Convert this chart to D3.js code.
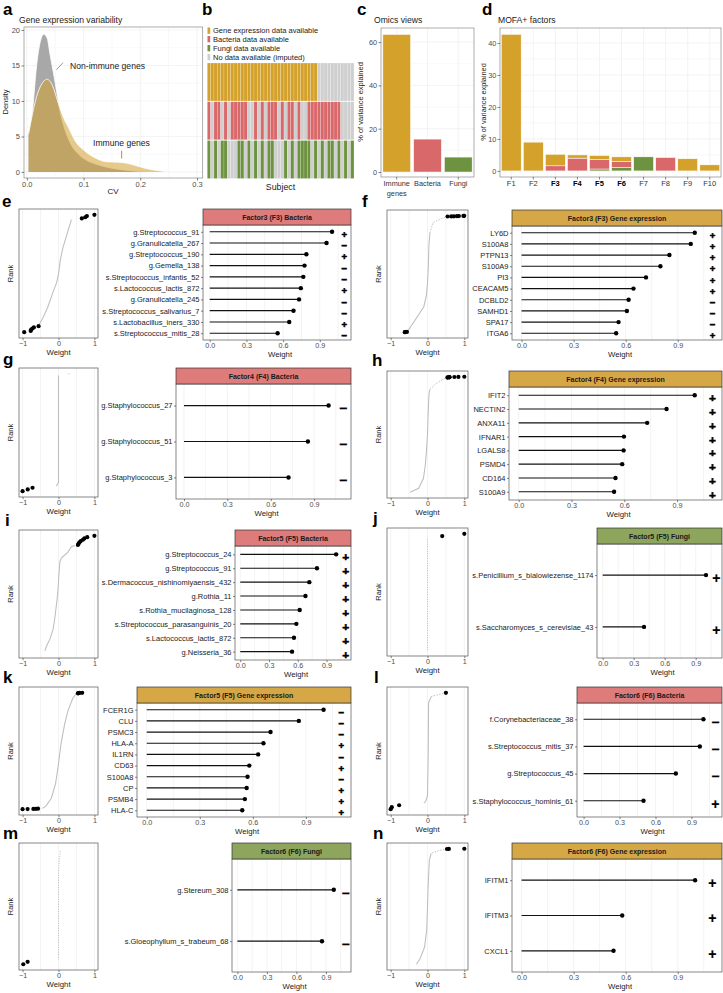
<!DOCTYPE html>
<html><head><meta charset="utf-8">
<script src="https://cdn.jsdelivr.net/npm/d3@7/dist/d3.min.js"></script>
<style>
html,body{margin:0;padding:0;background:#fff;}
svg{display:block;}
text{font-family:"Liberation Sans",Arial,Helvetica,sans-serif;}
</style></head><body>
<svg id="fig" width="723" height="993"></svg>
<script>
// ================= DATA =================
// (a) density of coefficient of variation
const nonImmuneCV      = [0.003,0.010,0.017,0.023,0.030,0.036,0.041,0.047,0.053,0.058,0.065,0.072,0.080,0.090,0.100,0.120,0.140,0.160,0.180,0.200,0.220];
const nonImmuneDensity = [5.6,8.7,14.8,18.1,19.4,18.8,16.5,13.9,11.1,8.7,6.5,4.9,3.6,2.6,1.9,1.15,0.7,0.4,0.2,0.07,0];
const immuneCV      = [0.003,0.010,0.020,0.030,0.036,0.045,0.055,0.065,0.075,0.085,0.100,0.120,0.140,0.160,0.175,0.190,0.210,0.230,0.250];
const immuneDensity = [5.3,8.2,11.3,12.8,13.05,12.2,9.8,7.6,6.0,4.4,3.1,2.0,1.45,1.38,1.25,0.95,0.5,0.2,0];
const cvTicks = [0,0.1,0.2,0.3];
const densityTicks = [0,5,10,15,20];

// (b) data availability per subject (1 = available)
const geneAvail  = [1,1,1,1,1,1,1,1,1,1,1,1,1,1,1,1,1,1,1,1,1,1,1,1,1,1,1,1,1,1,1,1,1,0,0,0,0,0,0,0,0,0,0,0];
const bactAvail  = [1,0,1,1,0,1,0,1,1,1,1,1,0,0,1,0,1,0,1,1,1,0,1,0,1,1,0,1,0,0,1,1,1,1,1,1,1,1,1,1,0,0,0,0];
const fungiAvail = [1,0,1,0,1,1,0,0,0,1,1,0,1,0,1,0,1,0,1,1,0,0,0,1,0,1,0,1,1,1,1,0,1,0,1,0,1,1,0,1,0,1,0,1];
const legendLabels = ["Gene expression data available","Bacteria data available","Fungi data available","No data available (imputed)"];

// (c) omics views
const omicsViews = ["Immune genes","Bacteria","Fungi"];
const omicsVariance = [63.5,15.2,6.9];
const omicsTicks = [0,20,40,60];

// (d) MOFA+ factors (stacked: fungi, bacteria, gene expression)
const factors = ["F1","F2","F3","F4","F5","F6","F7","F8","F9","F10"];
const factorGene     = [42.7,9.0,3.6,1.0,1.2,1.4,0,0,3.8,1.9];
const factorBacteria = [0,0,1.6,4.0,3.0,1.9,0,4.2,0,0];
const factorFungi    = [0,0,0,0,0.6,1.1,4.4,0,0,0];
const boldFactors = ["F3","F4","F5","F6"];
const factorTicks = [0,10,20,30,40];

// (e-n) top feature weights
const eFeat = ["g.Streptococcus_91","g.Granulicatella_267","g.Streptococcus_190","g.Gemella_138","s.Streptococcus_infantis_52","s.Lactococcus_lactis_872","g.Granulicatella_245","s.Streptococcus_salivarius_7","s.Lactobacillus_iners_330","s.Streptococcus_mitis_28"];
const eW    = [1.0,0.955,0.79,0.775,0.765,0.745,0.73,0.685,0.65,0.555];
const eSign = ["+","-","+","-","-","+","-","-","+","-"];
const eRankN = 100;
const eCurve = [[0.36,96],[0.3,90],[0.22,82],[0.12,72],[0.05,62],[0.0,50],[-0.05,43],[-0.15,35],[-0.3,22],[-0.45,12],[-0.55,7]];

const fFeat = ["LY6D","S100A8","PTPN13","S100A9","PI3","CEACAM5","DCBLD2","SAMHD1","SPA17","ITGA6"];
const fW    = [0.998,0.975,0.852,0.80,0.717,0.645,0.617,0.607,0.559,0.545];
const fSign = ["+","+","+","+","+","+","-","-","-","+"];
const fRankN = 1000;
const fDash  = [[0.545,994],[0.38,976],[0.15,942],[0.07,860]];
const fCurve = [[0.07,860],[0.06,828],[0.04,760],[0.03,650],[0.02,547],[0.0,420],[-0.03,317],[-0.1,220],[-0.25,146],[-0.43,61],[-0.52,19],[-0.555,4]];

const gFeat = ["g.Staphylococcus_27","g.Staphylococcus_51","g.Staphylococcus_3"];
const gW    = [1.0,0.857,0.723];
const gSign = ["-","-","-"];
const gRankN = 70;
const gCurve = [[-0.06,4],[0,6],[0,69]];
const gPts = [[0.29,70]];

const hFeat = ["IFIT2","NECTIN2","ANXA11","IFNAR1","LGALS8","PSMD4","CD164","S100A9"];
const hW    = [1.0,0.84,0.73,0.598,0.596,0.588,0.55,0.542];
const hSign = ["+","+","+","+","+","+","+","+"];
const hRankN = 1000;
const hDash  = [[0.54,993],[0.4,975],[0.22,937],[0.06,890]];
const hCurve = [[0.06,890],[0.04,842],[0.02,700],[0.0,500],[-0.03,350],[-0.06,237],[-0.11,122],[-0.24,35],[-0.47,1]];

const iFeat = ["g.Streptococcus_24","g.Streptococcus_91","s.Dermacoccus_nishinomiyaensis_432","g.Rothia_11","s.Rothia_mucilaginosa_128","s.Streptococcus_parasanguinis_20","s.Lactococcus_lactis_872","g.Neisseria_36"];
const iW    = [1.0,0.80,0.72,0.68,0.62,0.585,0.56,0.54];
const iSign = ["+","+","+","+","+","+","+","+"];
const iRankN = 90;
const iCurve = [[0.45,82.5],[0.36,81.7],[0.26,77.5],[0.08,73],[0.04,70.4],[0.01,60],[-0.01,50],[-0.04,41.3],[-0.1,27.5],[-0.15,18.6],[-0.24,11],[-0.33,5.9],[-0.38,2]];

const jFeat = ["s.Penicillium_s_bialowiezense_1174","s.Saccharomyces_s_cerevisiae_43"];
const jW    = [1.0,0.40];
const jSign = ["+","+"];
const jRankN = 52;
const jDotted = [[0,1],[0,50]];

const kFeat = ["FCER1G","CLU","PSMC3","HLA-A","IL1RN","CD63","S100A8","CP","PSMB4","HLA-C"];
const kW    = [1.0,0.86,0.70,0.66,0.63,0.58,0.57,0.565,0.555,0.54];
const kSign = ["-","-","-","+","-","+","-","+","+","+"];
const kRankN = 1000;
const kCurve = [[0.49,990],[0.4,956],[0.26,843],[0.17,729],[0.07,564],[0.0,393],[-0.08,223],[-0.2,95],[-0.35,27],[-0.45,8]];

const lFeat = ["f.Corynebacteriaceae_38","s.Streptococcus_mitis_37","g.Streptococcus_45","s.Staphylococcus_hominis_61"];
const lW    = [1.0,0.97,0.77,0.5];
const lSign = ["-","-","-","+"];
const lRankN = 60;
const lDash  = [[0.5,60],[0.17,58.5],[0.1,58]];
const lCurve = [[0.1,58],[0.03,55],[0.02,30],[0,8],[-0.05,5],[-0.1,4]];

const mFeat = ["g.Stereum_308","s.Gloeophyllum_s_trabeum_68"];
const mW    = [0.98,0.86];
const mSign = ["-","-"];
const mRankN = 50;
const mDotted = [[0.05,49],[0.02,45],[0,40],[0,3]];

const nFeat = ["IFITM1","IFITM3","CXCL1"];
const nW    = [1.0,0.58,0.53];
const nSign = ["+","+","+"];
const nRankN = 1000;
const nDash  = [[0.53,997],[0.3,985],[0.1,960]];
const nCurve = [[0.1,960],[0.05,900],[0.02,700],[0,500],[-0.02,300],[-0.08,150],[-0.2,50],[-0.3,1]];

const weightTicks = [0,0.3,0.6,0.9];
const rankTicks = [-1,0,1];

// ================= STYLE / LAYOUT =================
const GOLD="#D4A12B", RED="#D9686B", GREEN="#6D9340", NA="#CFCFCF";
const HDR={"Gene expression":"#D5A746","Bacteria":"#DD7C7B","Fungi":"#8DA55D"};
const GRID="#EBEBEB", TICKTXT="#4D4D4D", FONT='"Liberation Sans",Arial,sans-serif';
const svg = d3.select("#fig");

function styleAxis(sel, fs, col){
  sel.select(".domain").remove();
  sel.selectAll(".tick line").attr("stroke","#333").attr("stroke-width",0.6);
  sel.selectAll(".tick text").attr("fill",col||TICKTXT).attr("font-size",fs).attr("font-family",FONT);
}
function label(t,x,y,opt){
  opt=opt||{};
  const s=svg.append("text").attr("x",x).attr("y",y).text(t)
    .attr("font-size",opt.fs||8).attr("fill",opt.fill||"#1A1A1A")
    .attr("text-anchor",opt.anchor||"start");
  if(opt.bold) s.attr("font-weight","bold");
  if(opt.rot) s.attr("transform",`rotate(-90,${x},${y})`);
  return s;
}
function letter(t,x,y){ label(t,x,y,{fs:17,bold:true,fill:"#000"}); }
function vgrid(g,vals,x,y0,y1,col){
  g.selectAll(null).data(vals).join("line").attr("x1",d=>x(d)).attr("x2",d=>x(d))
   .attr("y1",y0).attr("y2",y1).attr("stroke",col||GRID).attr("stroke-width",0.6);
}
function hgrid(g,vals,y,x0,x1,col){
  g.selectAll(null).data(vals).join("line").attr("y1",d=>y(d)).attr("y2",d=>y(d))
   .attr("x1",x0).attr("x2",x1).attr("stroke",col||GRID).attr("stroke-width",0.6);
}
function box(g,x0,y0,x1,y1,col){
  g.append("rect").attr("x",x0).attr("y",y0).attr("width",x1-x0).attr("height",y1-y0)
   .attr("fill","none").attr("stroke",col||"#8A8A8A").attr("stroke-width",0.7);
}

// ================= PANEL A =================
(function(){
  const L={x0:24,x1:202.7,y0:27,y1:178};
  const g=svg.append("g");
  const x=d3.scaleLinear().domain([-0.005,0.31]).range([L.x0,L.x1]);
  const y=d3.scaleLinear().domain([-0.85,20.42]).range([L.y1,L.y0]);
  vgrid(g,[0.05,0.15,0.25],x,L.y0,L.y1,"#F3F3F3");
  hgrid(g,[2.5,7.5,12.5,17.5],y,L.x0,L.x1,"#F3F3F3");
  vgrid(g,cvTicks,x,L.y0,L.y1);
  hgrid(g,densityTicks,y,L.x0,L.x1);
  const area=d3.area().x(d=>x(d[0])).y0(y(0)).y1(d=>y(d[1])).curve(d3.curveMonotoneX);
  const line=d3.line().x(d=>x(d[0])).y(d=>y(d[1])).curve(d3.curveMonotoneX);
  const non=nonImmuneCV.map((v,i)=>[v,nonImmuneDensity[i]]);
  const imm=immuneCV.map((v,i)=>[v,immuneDensity[i]]);
  g.append("path").datum(non).attr("d",area).attr("fill","#A8A8A8");
  g.append("path").datum(non).attr("d",line).attr("fill","none").attr("stroke","#fff").attr("stroke-width",0.8);
  g.append("path").datum(imm).attr("d",area).attr("fill","rgb(211,161,51)").attr("fill-opacity",0.57);
  g.append("path").datum(imm).attr("d",line).attr("fill","none").attr("stroke","#fff").attr("stroke-width",0.8);
  box(g,L.x0,L.y0,L.x1,L.y1);
  const ax=g.append("g").attr("transform",`translate(0,${L.y1})`)
    .call(d3.axisBottom(x).tickValues(cvTicks).tickFormat(d3.format(".1f")).tickSize(2.5).tickPadding(1.5));
  styleAxis(ax,7.5);
  const ay=g.append("g").attr("transform",`translate(${L.x0},0)`)
    .call(d3.axisLeft(y).tickValues(densityTicks).tickSize(2.5).tickPadding(1.5));
  styleAxis(ay,7.5);
  label("CV",113,194,{fs:8,anchor:"middle"});
  label("Density",8,102,{fs:7.5,anchor:"middle",rot:true});
  label("Gene expression variability",19,23,{fs:8.6});
  letter("a",3,15);
  g.append("line").attr("x1",x(0.052)).attr("y1",y(14.4)).attr("x2",x(0.064)).attr("y2",y(15.4)).attr("stroke","#555").attr("stroke-width",0.6);
  label("Non-immune genes",70,69,{fs:8.6});
  g.append("line").attr("x1",x(0.167)).attr("x2",x(0.167)).attr("y1",y(3.0)).attr("y2",y(1.9)).attr("stroke",GOLD).attr("stroke-width",1.2);
  label("Immune genes",93,146,{fs:8.6});
})();

// ================= PANEL B =================
(function(){
  const g=svg.append("g");
  const subjects=geneAvail.map((_,i)=>i);
  const rows=["Gene","Bacteria","Fungi"];
  const x=d3.scaleBand().domain(subjects).range([207.3,354]);
  const y=d3.scaleBand().domain(rows).range([63,178.5]).paddingInner(0.02);
  const avail={Gene:geneAvail,Bacteria:bactAvail,Fungi:fungiAvail};
  const col={Gene:GOLD,Bacteria:RED,Fungi:GREEN};
  rows.forEach(r=>{
    g.selectAll(null).data(subjects).join("rect")
      .attr("x",d=>x(d)).attr("y",y(r)).attr("width",x.bandwidth()).attr("height",y.bandwidth())
      .attr("fill",d=>avail[r][d]?col[r]:NA).attr("stroke","#fff").attr("stroke-width",0.3).attr("stroke-opacity",0.6);
  });
  const lc=[GOLD,RED,GREEN,NA];
  legendLabels.forEach((t,i)=>{
    const yy=[27.5,36,45,54][i];
    g.append("rect").attr("x",207.5).attr("y",yy).attr("width",2.7).attr("height",6.3).attr("fill",lc[i]);
    label(t,213,yy+5.8,{fs:7.5});
  });
  label("Subject",280.5,190,{fs:8.8,anchor:"middle"});
  letter("b",202,15);
})();

// ================= PANEL C =================
(function(){
  const g=svg.append("g");
  const L={x0:381,x1:474,y0:28,y1:177};
  const x=d3.scaleBand().domain(omicsViews).range([L.x0,L.x1]).paddingInner(0.1).paddingOuter(0.06);
  const y=d3.scaleLinear().domain([-2.3,66.5]).range([L.y1,L.y0]);
  hgrid(g,[10,30,50],y,L.x0,L.x1,"#F3F3F3");
  hgrid(g,omicsTicks,y,L.x0,L.x1);
  vgrid(g,omicsViews,d=>x(d)+x.bandwidth()/2,L.y0,L.y1);
  const cc=[GOLD,RED,GREEN];
  g.selectAll(null).data(omicsViews).join("rect")
    .attr("x",d=>x(d)).attr("width",x.bandwidth())
    .attr("y",(d,i)=>y(omicsVariance[i])).attr("height",(d,i)=>y(0)-y(omicsVariance[i]))
    .attr("fill",(d,i)=>cc[i]).attr("stroke","#fff").attr("stroke-width",0.5);
  box(g,L.x0,L.y0,L.x1,L.y1);
  const ay=g.append("g").attr("transform",`translate(${L.x0},0)`)
    .call(d3.axisLeft(y).tickValues(omicsTicks).tickSize(2.5).tickPadding(1.5));
  styleAxis(ay,7.3);
  const ax=g.append("g").attr("transform",`translate(0,${L.y1})`)
    .call(d3.axisBottom(x).tickSize(2.5).tickPadding(1.5).tickFormat(d=>d==="Immune genes"?"Immune":d));
  styleAxis(ax,7.3,"#333");
  ax.selectAll(".tick").filter(d=>d==="Immune genes").append("text")
    .attr("y",13.5).attr("dy","0.71em").attr("fill","#333").attr("font-size",7.3).attr("font-family",FONT).attr("text-anchor","middle").text("genes");
  label("% of variance explained",363,102,{fs:7.5,anchor:"middle",rot:true});
  label("Omics views",374,23,{fs:8.6});
  letter("c",357,15);
})();

// ================= PANEL D =================
(function(){
  const g=svg.append("g");
  const L={x0:500,x1:721,y0:28,y1:177};
  const x=d3.scaleBand().domain(factors).range([L.x0,L.x1]).paddingInner(0.1).paddingOuter(0.06);
  const y=d3.scaleLinear().domain([-1.9,44.7]).range([L.y1,L.y0]);
  hgrid(g,[5,15,25,35],y,L.x0,L.x1,"#F3F3F3");
  hgrid(g,factorTicks,y,L.x0,L.x1);
  vgrid(g,factors,d=>x(d)+x.bandwidth()/2,L.y0,L.y1);
  const table=factors.map((f,i)=>({f,Fungi:factorFungi[i],Bacteria:factorBacteria[i],Gene:factorGene[i]}));
  const series=d3.stack().keys(["Fungi","Bacteria","Gene"])(table);
  const cc={Fungi:GREEN,Bacteria:RED,Gene:GOLD};
  series.forEach(s=>{
    g.selectAll(null).data(s.filter(d=>d[1]-d[0]>0)).join("rect")
      .attr("x",d=>x(d.data.f)).attr("width",x.bandwidth())
      .attr("y",d=>y(d[1])).attr("height",d=>y(d[0])-y(d[1]))
      .attr("fill",cc[s.key]).attr("stroke","#fff").attr("stroke-width",0.5);
  });
  box(g,L.x0,L.y0,L.x1,L.y1);
  const ay=g.append("g").attr("transform",`translate(${L.x0},0)`)
    .call(d3.axisLeft(y).tickValues(factorTicks).tickSize(2.5).tickPadding(1.2));
  styleAxis(ay,7.3);
  const ax=g.append("g").attr("transform",`translate(0,${L.y1})`)
    .call(d3.axisBottom(x).tickSize(2.5).tickPadding(1.5));
  styleAxis(ax,7.5,"#333");
  ax.selectAll(".tick text").attr("font-weight",d=>boldFactors.includes(d)?"bold":"normal").attr("fill",d=>boldFactors.includes(d)?"#000":"#333");
  label("% of variance explained",486,102,{fs:7.3,anchor:"middle",rot:true});
  label("MOFA+ factors",498,23,{fs:8.6});
  letter("d",482,15);
})();

// ================= LOLLIPOP + RANK PANELS =================
const panels=[
 {id:"e",title:"Factor3 (F3) Bacteria",view:"Bacteria",feat:eFeat,w:eW,sign:eSign,n:eRankN,curve:eCurve},
 {id:"f",title:"Factor3 (F3) Gene expression",view:"Gene expression",feat:fFeat,w:fW,sign:fSign,n:fRankN,curve:fCurve,dash:fDash},
 {id:"g",title:"Factor4 (F4) Bacteria",view:"Bacteria",feat:gFeat,w:gW,sign:gSign,n:gRankN,curve:gCurve,pts:gPts},
 {id:"h",title:"Factor4 (F4) Gene expression",view:"Gene expression",feat:hFeat,w:hW,sign:hSign,n:hRankN,curve:hCurve,dash:hDash},
 {id:"i",title:"Factor5 (F5) Bacteria",view:"Bacteria",feat:iFeat,w:iW,sign:iSign,n:iRankN,curve:iCurve},
 {id:"j",title:"Factor5 (F5) Fungi",view:"Fungi",feat:jFeat,w:jW,sign:jSign,n:jRankN,dotted:jDotted},
 {id:"k",title:"Factor5 (F5) Gene expression",view:"Gene expression",feat:kFeat,w:kW,sign:kSign,n:kRankN,curve:kCurve},
 {id:"l",title:"Factor6 (F6) Bacteria",view:"Bacteria",feat:lFeat,w:lW,sign:lSign,n:lRankN,curve:lCurve,dash:lDash},
 {id:"m",title:"Factor6 (F6) Fungi",view:"Fungi",feat:mFeat,w:mW,sign:mSign,n:mRankN,dotted:mDotted},
 {id:"n",title:"Factor6 (F6) Gene expression",view:"Gene expression",feat:nFeat,w:nW,sign:nSign,n:nRankN,curve:nCurve,dash:nDash}
];
const layout={
 e:{col:0,top:209,bottom:338,lolLeft:203,lx:2,ly:207},
 f:{col:1,top:210,bottom:338,lolLeft:512,lx:362,ly:207},
 g:{col:0,top:368,bottom:497,lolLeft:176,lx:3,ly:365},
 h:{col:1,top:371,bottom:498,lolLeft:509,lx:372,ly:366},
 i:{col:0,top:530,bottom:658,lolLeft:235,lx:5,ly:526},
 j:{col:1,top:528,bottom:656,lolLeft:597,lx:373,ly:524},
 k:{col:0,top:687,bottom:815,lolLeft:137,lx:3,ly:683},
 l:{col:1,top:687,bottom:815,lolLeft:577,lx:374,ly:683},
 m:{col:0,top:843,bottom:970,lolLeft:232,lx:3,ly:839},
 n:{col:1,top:843,bottom:970,lolLeft:512,lx:373,ly:839}
};

function drawRank(p,L){
  const g=svg.append("g");
  const x0=L.col?387:19, x1=L.col?468:98, top=L.top, bot=L.bottom, n=p.n;
  const x=d3.scaleLinear().domain([-1.1,1.1]).range([x0,x1]);
  const y=d3.scaleLinear().domain([1-0.05*(n-1), n+0.05*(n-1)]).range([bot,top]);
  vgrid(g,[-1,-0.5,0,0.5,1],x,top,bot);
  const line=d3.line().x(d=>x(d[0])).y(d=>y(d[1]));
  if(p.curve) g.append("path").datum(p.curve).attr("d",line).attr("fill","none").attr("stroke","#BDBDBD").attr("stroke-width",1.05);
  if(p.dash) g.append("path").datum(p.dash).attr("d",line).attr("fill","none").attr("stroke","#BDBDBD").attr("stroke-width",1).attr("stroke-dasharray","1.3,1.5");
  if(p.dotted) g.append("path").datum(p.dotted).attr("d",line).attr("fill","none").attr("stroke","#B0B0B0").attr("stroke-width",0.9).attr("stroke-dasharray","0.9,1.5");
  if(p.pts) g.selectAll(null).data(p.pts).join("circle").attr("cx",d=>x(d[0])).attr("cy",d=>y(d[1])).attr("r",0.6).attr("fill","#BDBDBD");
  const sw=p.w.map((w,i)=>p.sign[i]==="+"?w:-w);
  const pos=sw.filter(v=>v>0).sort((a,b)=>b-a).map((v,i)=>[v,n-i]);
  const neg=sw.filter(v=>v<0).sort((a,b)=>a-b).map((v,i)=>[v,1+i]);
  g.selectAll(null).data(pos.concat(neg)).join("circle")
    .attr("cx",d=>x(d[0])).attr("cy",d=>y(d[1])).attr("r",2.1).attr("fill","#000");
  box(g,x0,top,x1,bot,"#555");
  const ax=g.append("g").attr("transform",`translate(0,${bot})`)
    .call(d3.axisBottom(x).tickValues(rankTicks).tickFormat(d=>d<0?"\u2212"+Math.abs(d):d).tickSize(2.2).tickPadding(0.6));
  styleAxis(ax,7.2);
  label("Weight",(x0+x1)/2,bot+17,{fs:7.8,anchor:"middle"});
  label("Rank",L.col?381:13,(top+bot)/2,{fs:7.5,anchor:"middle",rot:true});
}

function drawLollipop(p,L){
  const g=svg.append("g");
  const x0=L.lolLeft, x1=L.col?722:351, top=L.top, hh=16, bot=L.bottom+2;
  const x=d3.scaleLinear().domain([-0.055,1.155]).range([x0,x1]);
  const y=d3.scalePoint().domain(p.feat).range([top+hh,bot]).padding(0.6);
  vgrid(g,[0,0.15,0.3,0.45,0.6,0.75,0.9,1.05],x,top+hh,bot);
  g.selectAll(null).data(p.feat).join("line")
    .attr("x1",x(0)).attr("x2",(d,i)=>x(p.w[i])).attr("y1",d=>y(d)).attr("y2",d=>y(d))
    .attr("stroke","#111").attr("stroke-width",1.15);
  g.selectAll(null).data(p.feat).join("circle")
    .attr("cx",(d,i)=>x(p.w[i])).attr("cy",d=>y(d)).attr("r",2.2).attr("fill","#000");
  // sign column: font size fitted to the row step so signs do not collide
  const fs=Math.min(14, y.step()/1.17-0.05);
  g.selectAll(null).data(p.feat).join("text")
    .attr("x",x(1.1)).attr("y",d=>y(d)+2.5+fs*0.38).attr("text-anchor","middle")
    .attr("font-family","'DejaVu Sans',sans-serif").attr("font-weight","bold")
    .attr("font-size",fs).attr("fill","#000").attr("stroke","#000").attr("stroke-width",fs<12?0.55:0.2)
    .text((d,i)=>p.sign[i]==="+"?"+":"\u2212");
  box(g,x0,top+hh,x1,bot,"#555");
  g.append("rect").attr("x",x0).attr("y",top).attr("width",x1-x0).attr("height",hh)
    .attr("fill",HDR[p.view]).attr("stroke","#333").attr("stroke-width",0.7);
  g.append("text").attr("x",(x0+x1)/2).attr("y",top+hh/2+2.5).attr("text-anchor","middle")
    .attr("font-size",7).attr("font-weight","bold").attr("fill","#1A1A1A").text(p.title);
  const ay=g.append("g").attr("transform",`translate(${x0},0)`)
    .call(d3.axisLeft(y).tickSize(2).tickPadding(1.5));
  styleAxis(ay,7.5,"#222");
  const ax=g.append("g").attr("transform",`translate(0,${bot})`)
    .call(d3.axisBottom(x).tickValues(weightTicks).tickFormat(d3.format(".1f")).tickSize(2.2).tickPadding(0.6));
  styleAxis(ax,7.2);
  label("Weight",(x0+x1)/2+3,bot+17,{fs:7.8,anchor:"middle"});
}

panels.forEach(p=>{
  const L=layout[p.id];
  drawRank(p,L);
  drawLollipop(p,L);
  letter(p.id,L.lx,L.ly);
});
</script></body></html>
